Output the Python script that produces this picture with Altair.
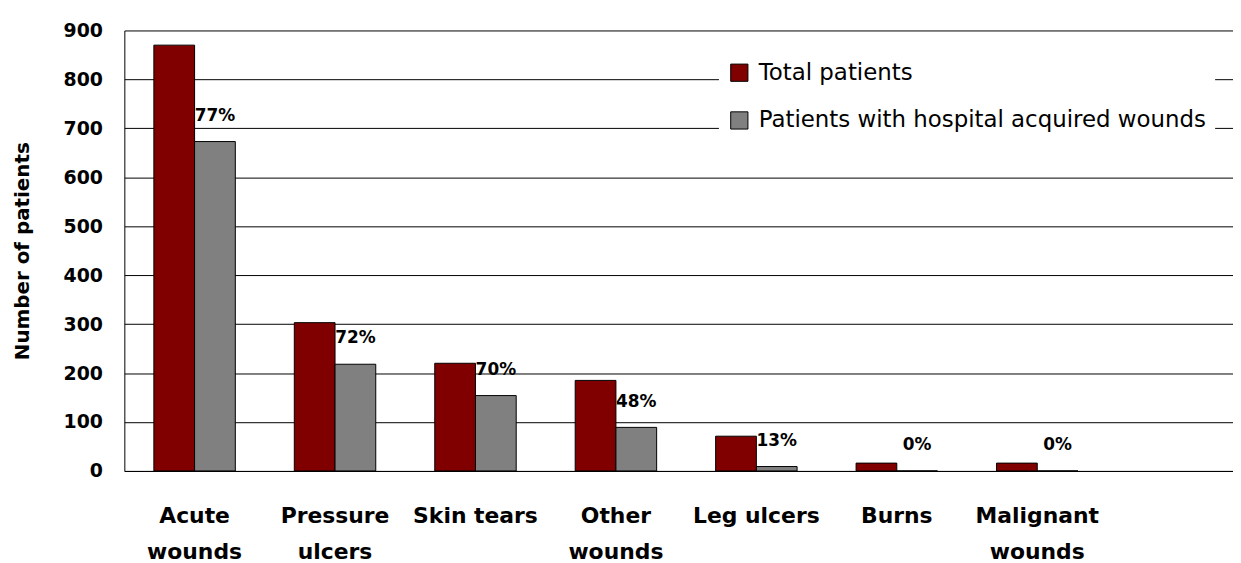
import altair as alt
import pandas as pd

categories = ["Acute|wounds", "Pressure|ulcers", "Skin tears", "Other|wounds",
              "Leg ulcers", "Burns", "Malignant|wounds"]
series = ["Total patients", "Patients with hospital acquired wounds"]
total_patients = [870, 303, 220, 185, 71, 16, 16]
hospital_acquired = [673, 218, 154, 89, 9, 0, 0]
pct_labels = ["77%", "72%", "70%", "48%", "13%", "0%", "0%"]
y_ticks = [0, 100, 200, 300, 400, 500, 600, 700, 800, 900]

rows = []
for c, t, h in zip(categories, total_patients, hospital_acquired):
    rows.append({"category": c, "series": series[0], "value": t})
    rows.append({"category": c, "series": series[1], "value": h})
bars_df = pd.DataFrame(rows)
text_df = pd.DataFrame({"category": categories, "series": series[1],
                        "value": hospital_acquired, "pct": pct_labels})

FONT = "DejaVu Sans, sans-serif"

x_enc = alt.X("category:N", sort=categories,
              scale=alt.Scale(paddingInner=0.42, paddingOuter=0.657, align=0.16),
              axis=alt.Axis(title=None, labelExpr="split(datum.label, '|')",
                            labelAngle=0, labelFontSize=22, labelFontWeight="bold",
                            labelLineHeight=36, labelPadding=35, ticks=False,
                            grid=False, domainColor="black"))
xoff = alt.XOffset("series:N", sort=series, scale=alt.Scale(paddingInner=0, paddingOuter=0))
y_enc = alt.Y("value:Q", scale=alt.Scale(domain=[0, 900], nice=False),
              axis=alt.Axis(title="Number of patients", values=y_ticks, ticks=False,
                            labelFontSize=19, labelFontWeight="bold", labelPadding=22,
                            titleFontSize=20, titleFontWeight="bold", titlePadding=31,
                            gridColor="black", gridOpacity=1, gridWidth=1,
                            domainColor="black"))

bars = alt.Chart(bars_df).mark_bar(stroke="black", strokeWidth=1).encode(
    x=x_enc, xOffset=xoff, y=y_enc,
    color=alt.Color("series:N", sort=series,
                    scale=alt.Scale(domain=series, range=["#800000", "#808080"]),
                    legend=alt.Legend(title=None, orient="none", legendX=598, legendY=22,
                                      fillColor="white", padding=9,
                                      symbolType="square", symbolSize=300,
                                      symbolStrokeColor="black", symbolStrokeWidth=1,
                                      labelFontSize=23, labelFont=FONT, labelLimit=800,
                                      rowPadding=24, labelOffset=8)),
)

text = alt.Chart(text_df).mark_text(dy=-26, fontSize=17, fontWeight="bold",
                                    color="black", baseline="middle").encode(
    x=alt.X("category:N", sort=categories), xOffset=alt.XOffset("series:N", sort=series),
    y="value:Q", text="pct:N")

chart = alt.layer(bars, text).properties(
    width=1115, height=443,
    autosize=alt.AutoSizeParams(type="none"),
    padding={"left": 117, "top": 21, "right": 0, "bottom": 91},
).configure(font=FONT).configure_view(stroke=None).configure_axis(
    labelFont=FONT, titleFont=FONT, labelColor="black", titleColor="black")

chart.save("out.html", embed_options={"renderer": "svg", "actions": False})
